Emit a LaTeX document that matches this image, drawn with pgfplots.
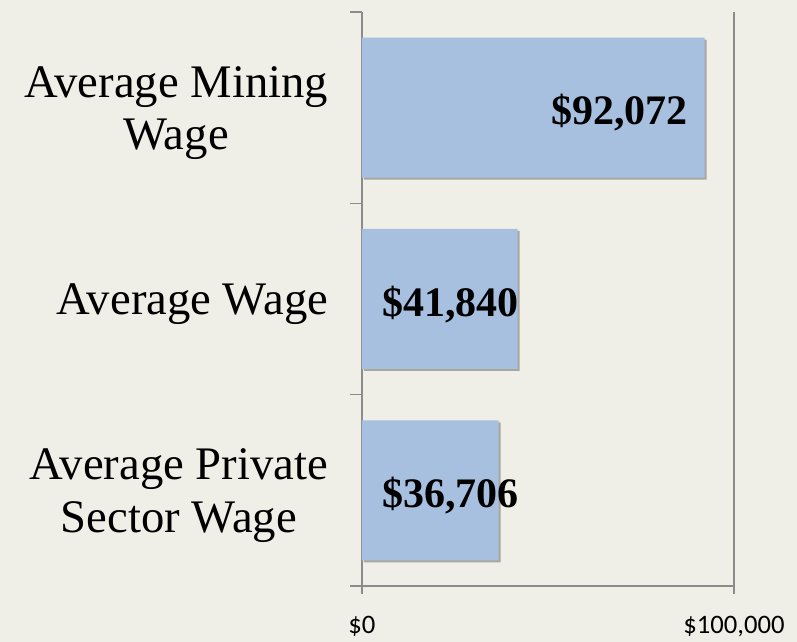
\documentclass[border=0pt]{standalone}
\usepackage{pgfplots}
\pgfplotsset{compat=1.18}
\usepackage{fontspec}
\setmainfont{Liberation Serif}
\newfontfamily\carlito{Carlito}
\usetikzlibrary{shadows}
\definecolor{bg}{RGB}{240,239,231}
\definecolor{barc}{RGB}{167,192,224}
\definecolor{axc}{RGB}{140,140,140}
\begin{document}
\begin{tikzpicture}
\fill[bg] (-271.5pt,-42pt) rectangle (326.25pt,439.5pt);
\begin{axis}[
  at={(0,0)}, anchor=south west, scale only axis,
  width=279pt, height=430.5pt,
  xmin=0, xmax=100000, ymin=0, ymax=3,
  scaled x ticks=false,
  xbar, bar width=105pt,
  axis x line*=bottom, axis y line*=left,
  axis line style={axc, line width=1.2pt},
  tick align=outside,
  xtick={0,100000}, xticklabels={\$0,{\$100,000}},
  xticklabel style={font=\carlito\fontsize{20}{22}\selectfont, yshift=-15pt},
  xtick style={axc, line width=1.2pt, /pgfplots/major tick length=6pt},
  xmajorgrids, major grid style={axc, line width=1.5pt},
  ytick={0,1,2,3}, yticklabels={},
  ytick style={axc, line width=1.2pt, /pgfplots/major tick length=9pt},
  extra y ticks={0.5,1.5,2.5},
  extra y tick labels={{Average Private\\Sector Wage},{Average Wage},{Average Mining\\Wage}},
  extra y tick style={ytick style={draw=none}, yticklabel style={align=center, font=\fontsize{35}{39.5}\selectfont, inner sep=0pt, xshift=-21pt, yshift=-4pt}},
  clip=false,
]
\addplot[fill=barc, draw=none, drop shadow={shadow xshift=1.5pt, shadow yshift=-1.5pt, opacity=0.3, fill=black}]
  coordinates {(36706,0.5) (41840,1.5) (92072,2.5)};
\node[anchor=east, font=\bfseries\fontsize{31.5}{36}\selectfont, inner sep=0pt, yshift=-4pt] at (axis cs:87634,2.5) {\$92,072};
\node[anchor=west, font=\bfseries\fontsize{31.5}{36}\selectfont, inner sep=0pt, yshift=-4pt] at (axis cs:5376,1.5) {\$41,840};
\node[anchor=west, font=\bfseries\fontsize{31.5}{36}\selectfont, inner sep=0pt, yshift=-4pt] at (axis cs:5376,0.5) {\$36,706};
\end{axis}
\end{tikzpicture}
\end{document}
